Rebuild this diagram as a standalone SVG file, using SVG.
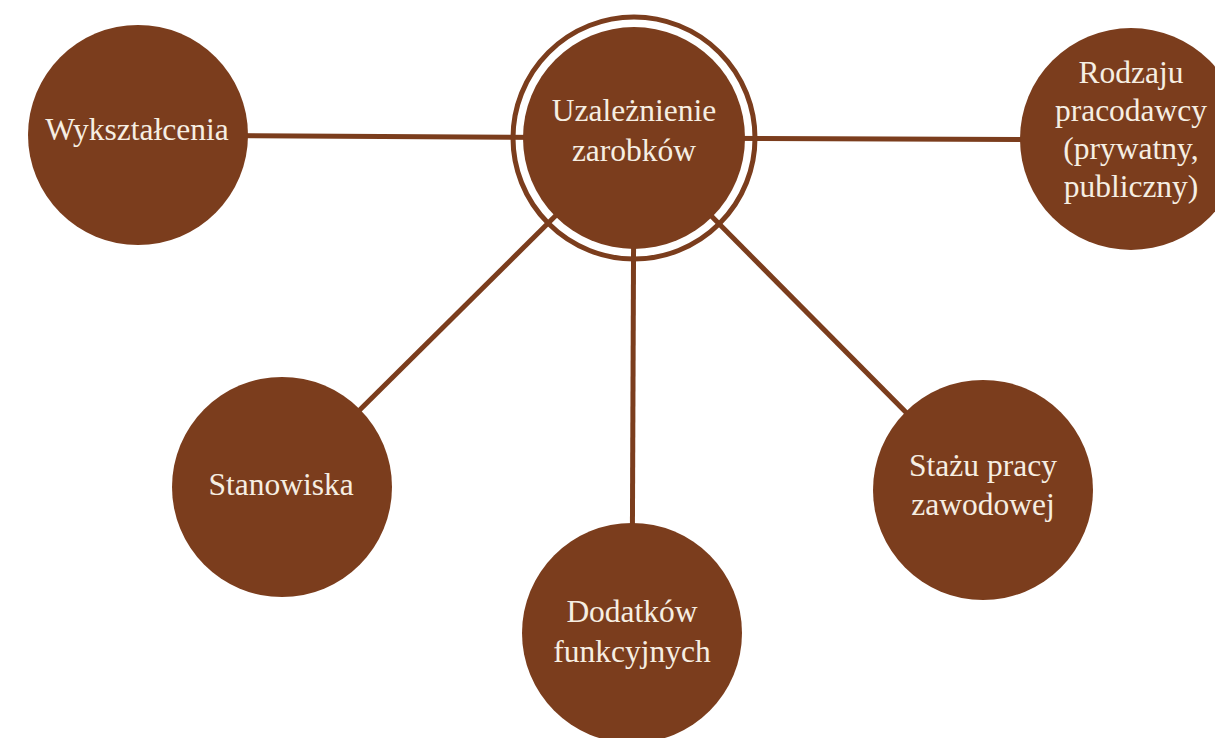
<svg xmlns="http://www.w3.org/2000/svg" width="1215" height="738" viewBox="0 0 1215 738">
<style>
.edge{stroke:#7B3D1D;stroke-width:5;fill:none}
.node{fill:#7B3D1D}
.ring{fill:none;stroke:#7B3D1D;stroke-width:5}
.lbl{font-family:"Liberation Serif","DejaVu Serif",serif;font-size:31.5px;fill:#F6EEE2;text-anchor:middle}
</style>
<rect width="1215" height="738" fill="#ffffff"/>
<g id="connectors">
<line class="edge" x1="634" y1="138" x2="138" y2="135"/>
<line class="edge" x1="634" y1="138" x2="1131" y2="140"/>
<line class="edge" x1="634" y1="138" x2="282" y2="487"/>
<line class="edge" x1="634" y1="138" x2="632" y2="633"/>
<line class="edge" x1="634" y1="138" x2="983" y2="490"/>
</g>
<g id="center">
<circle class="ring" cx="634" cy="138" r="121"/>
<circle class="node" cx="634" cy="138" r="111"/>
<text class="lbl" x="634" y="121">Uzależnienie</text>
<text class="lbl" x="634" y="161">zarobków</text>
</g>
<g id="wyksztalcenia">
<circle class="node" cx="138" cy="135" r="110"/>
<text class="lbl" x="137" y="140">Wykształcenia</text>
</g>
<g id="rodzaju">
<circle class="node" cx="1131" cy="139" r="111"/>
<text class="lbl" x="1131" y="83">Rodzaju</text>
<text class="lbl" x="1131" y="121">pracodawcy</text>
<text class="lbl" x="1131" y="159">(prywatny,</text>
<text class="lbl" x="1131" y="197">publiczny)</text>
</g>
<g id="stanowiska">
<circle class="node" cx="282" cy="487" r="110"/>
<text class="lbl" x="281" y="495">Stanowiska</text>
</g>
<g id="dodatkow">
<circle class="node" cx="632" cy="633" r="110"/>
<text class="lbl" x="632" y="622">Dodatków</text>
<text class="lbl" x="632" y="662">funkcyjnych</text>
</g>
<g id="stazu">
<circle class="node" cx="983" cy="490" r="110"/>
<text class="lbl" x="983" y="476">Stażu pracy</text>
<text class="lbl" x="983" y="515">zawodowej</text>
</g>
</svg>
